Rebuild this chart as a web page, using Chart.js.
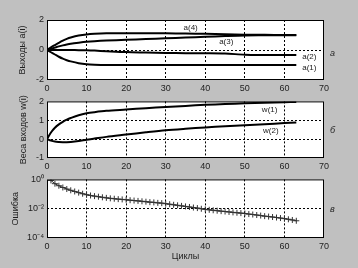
<!DOCTYPE html>
<html>
<head>
<meta charset="utf-8">
<script src="https://cdn.jsdelivr.net/npm/chart.js@4"></script>
<style>
    body { margin: 0; background: #c0c0c0; }
    #wrap { position: relative; width: 358px; height: 268px; background: #c0c0c0; }
    canvas { position: absolute; left: 0; }
</style>
</head>
<body>
<div id="wrap">
    <canvas id="outChart" width="358" height="93" style="top:0"></canvas>
    <canvas id="wChart" width="358" height="78" style="top:93px"></canvas>
    <canvas id="errChart" width="358" height="97" style="top:171px"></canvas>
</div>
<script>
// ================= DATA =================
const xTicks = [0, 10, 20, 30, 40, 50, 60, 70];
const cycles = [0, 1, 2, 3, 4, 5, 6, 8, 10, 12, 15, 20, 25, 30, 35, 40, 45, 50, 55, 60, 63];

const a1 = [0, -0.15, -0.3, -0.45, -0.58, -0.68, -0.76, -0.88, -0.95, -0.98, -1.0, -1.0, -1.0, -1.0, -1.0, -1.0, -1.0, -1.0, -1.0, -1.0, -1.0];
const a2 = [0, 0, 0, 0, 0, 0, 0, -0.01, -0.02, -0.04, -0.08, -0.14, -0.17, -0.2, -0.21, -0.22, -0.24, -0.31, -0.33, -0.34, -0.34];
const a3 = [0, 0.08, 0.16, 0.24, 0.31, 0.37, 0.42, 0.49, 0.55, 0.59, 0.63, 0.68, 0.73, 0.78, 0.83, 0.88, 0.93, 0.97, 0.98, 0.99, 0.99];
const a4 = [0, 0.18, 0.33, 0.48, 0.62, 0.74, 0.83, 0.96, 1.04, 1.08, 1.11, 1.12, 1.12, 1.11, 1.1, 1.08, 1.05, 1.02, 1.01, 1.0, 1.0];

const w1 = [0, 0.35, 0.6, 0.78, 0.92, 1.03, 1.12, 1.27, 1.37, 1.43, 1.5, 1.57, 1.64, 1.7, 1.76, 1.82, 1.86, 1.9, 1.93, 1.96, 1.97];
const w2 = [0, -0.08, -0.13, -0.15, -0.16, -0.16, -0.15, -0.1, -0.03, 0.03, 0.12, 0.24, 0.36, 0.47, 0.55, 0.62, 0.68, 0.74, 0.79, 0.85, 0.88];

// error per cycle, cycles 1..63
const errValues = [
    0.85, 0.51, 0.37, 0.28, 0.22, 0.18, 0.15, 0.125, 0.105, 0.09,
    0.08, 0.072, 0.066, 0.06, 0.055, 0.051, 0.048, 0.045, 0.043, 0.041,
    0.038, 0.036, 0.034, 0.032, 0.03, 0.028, 0.027, 0.025, 0.024, 0.022,
    0.0202, 0.0185, 0.017, 0.0156, 0.0143, 0.0131, 0.012, 0.011, 0.0099, 0.009,
    0.0084, 0.0078, 0.0073, 0.0068, 0.0064, 0.006, 0.0056, 0.0053, 0.005, 0.0047,
    0.0043, 0.004, 0.0037, 0.0034, 0.0031, 0.0029, 0.0027, 0.0025, 0.0023, 0.0021,
    0.0019, 0.0017, 0.0015
];

const outTicks = [-2, 0, 2];
const wTicks = [-1, 0, 1, 2];
const errTicks = [1e-4, 1e-2, 1];
const errTickLabels = { "0.0001": "10\u207B\u2074", "0.01": "10\u207B\u00B2", "1": "10\u2070" };

// ================= HELPERS =================
const FONT = "Liberation Sans, Arial, sans-serif";
const pts = (ys) => ys.map((y, i) => ({ x: cycles[i], y }));

const boxPlugin = {
    id: "box",
    beforeDraw(chart) {
        const { ctx, chartArea: a } = chart;
        ctx.save();
        ctx.fillStyle = "#fff";
        ctx.fillRect(a.left, a.top, a.right - a.left, a.bottom - a.top);
        ctx.restore();
    },
    afterDraw(chart, args, opts) {
        const { ctx, chartArea: a, scales } = chart;
        ctx.save();
        ctx.strokeStyle = "#000";
        ctx.lineWidth = 1;
        ctx.strokeRect(a.left + 0.5, a.top + 0.5, a.right - a.left - 1, a.bottom - a.top - 1);
        ctx.fillStyle = "#222";
        ctx.font = "8px " + FONT;
        ctx.textAlign = "left";
        ctx.textBaseline = "middle";
        (opts.notes || []).forEach(n => {
            ctx.fillText(n.text, scales.x.getPixelForValue(n.x), scales.y.getPixelForValue(n.y));
        });
        ctx.font = "italic 9px " + FONT;
        ctx.fillText(opts.tag, a.right + 6, opts.tagY);
        ctx.restore();
    }
};

function edgeGrid(ctx) {
    const s = ctx.scale;
    const v = ctx.tick.value;
    return (v <= s.min || v >= s.max) ? "transparent" : "#000";
}

function makeChart(id, datasets, yCfg, opts) {
    return new Chart(document.getElementById(id), {
        type: "line",
        data: { datasets },
        options: {
            responsive: false,
            animation: false,
            devicePixelRatio: 1,
            layout: { padding: { top: opts.top, right: 34, left: 0, bottom: opts.bottom || 0 } },
            plugins: { legend: { display: false }, tooltip: { enabled: false }, box: opts.box },
            scales: {
                x: {
                    type: "linear", min: 0, max: 70,
                    afterBuildTicks: s => { s.ticks = xTicks.map(v => ({ value: v })); },
                    afterFit: s => { s.height = opts.xh; },
                    grid: { color: edgeGrid, drawTicks: false },
                    border: { display: false, dash: [2, 2] },
                    ticks: { color: "#222", font: { family: FONT, size: 9 }, padding: 3, maxRotation: 0 },
                    title: opts.xTitle ? { display: true, text: opts.xTitle, color: "#222", font: { family: FONT, size: 9 }, padding: { top: 1, bottom: 0 } } : { display: false }
                },
                y: Object.assign({
                    afterFit: s => { s.width = 47; },
                    grid: { color: edgeGrid, drawTicks: false },
                    border: { display: false, dash: [2, 2] },
                    title: { display: true, text: opts.yTitle, color: "#222", font: { family: FONT, size: 9 }, padding: { top: opts.titlePad, bottom: 0 } }
                }, yCfg)
            }
        },
        plugins: [boxPlugin]
    });
}

const lineStyle = { borderColor: "#000", borderWidth: 2, pointRadius: 0, tension: 0.3, fill: false };

// ================= OUTPUTS =================
makeChart("outChart", [
    Object.assign({ data: pts(a1) }, lineStyle),
    Object.assign({ data: pts(a2) }, lineStyle),
    Object.assign({ data: pts(a3) }, lineStyle),
    Object.assign({ data: pts(a4) }, lineStyle)
], {
    type: "linear", min: -2, max: 2,
    afterBuildTicks: s => { s.ticks = outTicks.map(v => ({ value: v })); },
    ticks: { color: "#222", font: { family: FONT, size: 9 }, padding: 3 }
}, {
    top: 20, xh: 13, yTitle: "Выходы a(i)", titlePad: 17,
    box: {
        tag: "a", tagY: 53,
        notes: [
            { text: "a(4)", x: 34.5, y: 1.47 },
            { text: "a(3)", x: 43.5, y: 0.55 },
            { text: "a(2)", x: 64.5, y: -0.45 },
            { text: "a(1)", x: 64.5, y: -1.2 }
        ]
    }
});

// ================= WEIGHTS =================
makeChart("wChart", [
    Object.assign({ data: pts(w1) }, lineStyle),
    Object.assign({ data: pts(w2) }, lineStyle)
], {
    type: "linear", min: -1, max: 2,
    afterBuildTicks: s => { s.ticks = wTicks.map(v => ({ value: v })); },
    ticks: { color: "#222", font: { family: FONT, size: 9 }, padding: 3 }
}, {
    top: 7, xh: 13, yTitle: "Веса входов w(i)", titlePad: 18,
    box: {
        tag: "б", tagY: 37,
        notes: [
            { text: "w(1)", x: 54.3, y: 1.55 },
            { text: "w(2)", x: 54.6, y: 0.45 }
        ]
    }
});

// ================= ERROR =================
makeChart("errChart", [{
    data: errValues.map((v, i) => ({ x: i + 1, y: v })),
    borderColor: "#333", borderWidth: 1,
    pointStyle: "cross", pointRadius: 3, pointBorderColor: "#333", pointBorderWidth: 1,
    fill: false
}], {
    type: "logarithmic", min: 1e-4, max: 1,
    afterBuildTicks: s => { s.ticks = errTicks.map(v => ({ value: v })); },
    ticks: { color: "#222", font: { family: FONT, size: 9 }, padding: 3, callback: v => errTickLabels[String(v)] }
}, {
    top: 8, xh: 24, bottom: 6, xTitle: "Циклы", yTitle: "Ошибка", titlePad: 10,
    box: { tag: "в", tagY: 38 }
});
</script>
</body>
</html>
